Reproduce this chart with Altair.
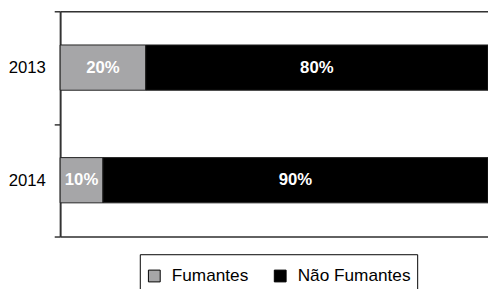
import altair as alt
import pandas as pd

years = ["2013", "2014"]
categories = ["Fumantes", "Não Fumantes"]
fumantes = [20, 10]
nao_fumantes = [80, 90]

rows = []
for i, y in enumerate(years):
    start = 0
    for j, (cat, val) in enumerate(zip(categories, [fumantes[i], nao_fumantes[i]])):
        rows.append({"ano": y, "grupo": cat, "valor": val, "ordem": j,
                     "ini": start, "fim": start + val, "meio": start + val / 2,
                     "rotulo": f"{val}%"})
        start += val
df = pd.DataFrame(rows)

FONT = "Liberation Sans"

y_enc = alt.Y("ano:N", sort=years, title=None,
              scale=alt.Scale(paddingInner=0, paddingOuter=0),
              axis=alt.Axis(tickBand="extent", tickSize=6, tickColor="#333333", tickWidth=1.5,
                            domainColor="#333333", domainWidth=2, labelFontSize=17,
                            labelColor="#000000", labelPadding=9, labelFont=FONT,
                            grid=False))

xscale = alt.Scale(domain=[0, 100], nice=False)

bars = alt.Chart(df).mark_bar(stroke="#222222", strokeWidth=1, size=46).encode(
    x=alt.X("ini:Q", scale=xscale, title=None,
            axis=alt.Axis(orient="bottom", labels=False, ticks=False, grid=False,
                          domainColor="#333333", domainWidth=1.5)),
    x2="fim:Q",
    y=y_enc,
    color=alt.Color("grupo:N", sort=categories,
                    scale=alt.Scale(domain=categories, range=["#a6a6a8", "#000000"]),
                    legend=alt.Legend(orient="none", legendX=81, legendY=247,
                                      title=" ", titleFontSize=6, titlePadding=1,
                                      direction="horizontal", strokeColor="#000000",
                                      padding=6, symbolType="square", symbolSize=144,
                                      symbolStrokeColor="#000000", symbolStrokeWidth=1,
                                      labelFontSize=17.5, labelFont=FONT, labelColor="#000000",
                                      labelOffset=9, columnPadding=23)),
    order="ordem:Q",
)

texts = alt.Chart(df).mark_text(color="white", fontWeight="bold", fontSize=17, font=FONT).encode(
    x=alt.X("meio:Q", scale=xscale,
            axis=alt.Axis(orient="top", labels=False, ticks=False, grid=False,
                          domainColor="#333333", domainWidth=1.5, title=None)),
    y=alt.Y("ano:N", sort=years),
    text="rotulo:N",
)

chart = alt.layer(bars, texts).properties(
    width=435, height=229,
    autosize=alt.AutoSizeParams(type="none"),
    padding={"left": 53, "top": 1, "right": 0, "bottom": 51},
).configure_view(stroke=None).configure(font=FONT)

chart.save("out.html", embed_options={"renderer": "svg", "actions": False})
